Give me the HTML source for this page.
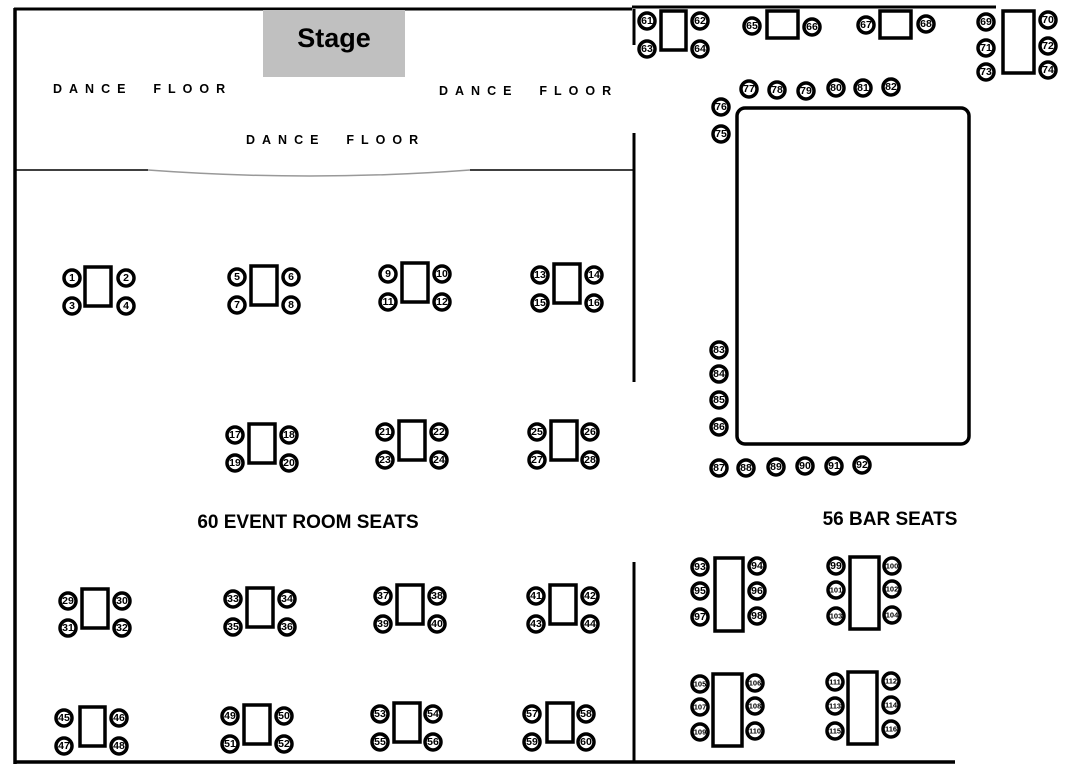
<!DOCTYPE html>
<html><head><meta charset="utf-8"><style>
html,body{margin:0;padding:0;background:#fff;width:1080px;height:781px;overflow:hidden}
svg{display:block}
.s circle{fill:#fff;stroke:#000;stroke-width:3.5}
.s text{font-family:"Liberation Sans",sans-serif;font-weight:bold;font-size:10.5px;text-anchor:middle;dominant-baseline:central;fill:#000}
.s text.sm{font-size:7.5px}
.t{fill:#fff;stroke:#000;stroke-width:3.5}
.df{font-family:"Liberation Sans",sans-serif;font-weight:bold;font-size:12.5px;letter-spacing:7px;fill:#000}
.big{font-family:"Liberation Sans",sans-serif;font-weight:bold;font-size:19px;fill:#000;text-anchor:middle}
</style></head><body>
<svg width="1080" height="781" viewBox="0 0 1080 781">
<g stroke="#000" fill="none">
<line x1="14" y1="9" x2="632" y2="9" stroke-width="3"/>
<line x1="632" y1="7" x2="996" y2="7" stroke-width="3"/>
<line x1="15" y1="8" x2="15" y2="764" stroke-width="3.5"/>
<line x1="14" y1="762" x2="955" y2="762" stroke-width="3.5"/>
<line x1="634" y1="9" x2="634" y2="45" stroke-width="3"/>
<line x1="634" y1="133" x2="634" y2="382" stroke-width="3"/>
<line x1="634" y1="562" x2="634" y2="763" stroke-width="3"/>
<line x1="16" y1="170" x2="148" y2="170" stroke-width="1.5"/>
<line x1="470" y1="170" x2="633" y2="170" stroke-width="1.5"/>
<path d="M148 170 Q310 182 470 170" stroke="#999" stroke-width="1.5"/>
</g>
<rect x="263" y="10" width="142" height="67" fill="#c0c0c0"/>
<text x="334" y="47" class="big" style="font-size:27px">Stage</text>
<text x="53" y="93" class="df">DANCE&#160;&#160;FLOOR</text>
<text x="439" y="95" class="df">DANCE&#160;&#160;FLOOR</text>
<text x="246" y="144" class="df">DANCE&#160;&#160;FLOOR</text>
<text x="308" y="528" class="big">60 EVENT ROOM SEATS</text>
<text x="890" y="525" class="big">56 BAR SEATS</text>

<g class="t">
<rect x="85" y="267" width="26" height="39"/>
<rect x="251" y="266" width="26" height="39"/>
<rect x="402" y="263" width="26" height="39"/>
<rect x="554" y="264" width="26" height="39"/>
<rect x="249" y="424" width="26" height="39"/>
<rect x="399" y="421" width="26" height="39"/>
<rect x="551" y="421" width="26" height="39"/>
<rect x="82" y="589" width="26" height="39"/>
<rect x="247" y="588" width="26" height="39"/>
<rect x="397" y="585" width="26" height="39"/>
<rect x="550" y="585" width="26" height="39"/>
<rect x="80" y="707" width="25" height="39"/>
<rect x="244" y="705" width="26" height="39"/>
<rect x="394" y="703" width="26" height="39"/>
<rect x="547" y="703" width="26" height="39"/>
<rect x="661" y="11" width="25" height="39"/>
<rect x="767" y="11" width="31" height="27"/>
<rect x="880" y="11" width="31" height="27"/>
<rect x="1003" y="11" width="31" height="62"/>
<rect x="737" y="108" width="232" height="336" rx="8"/>
<rect x="715" y="558" width="28" height="73"/>
<rect x="850" y="557" width="29" height="72"/>
<rect x="713" y="674" width="29" height="72"/>
<rect x="848" y="672" width="29" height="72"/>
</g>

<g class="s">
<circle cx="72" cy="278" r="8"/><text x="72" y="278">1</text>
<circle cx="126" cy="278" r="8"/><text x="126" y="278">2</text>
<circle cx="72" cy="306" r="8"/><text x="72" y="306">3</text>
<circle cx="126" cy="306" r="8"/><text x="126" y="306">4</text>
<circle cx="237" cy="277" r="8"/><text x="237" y="277">5</text>
<circle cx="291" cy="277" r="8"/><text x="291" y="277">6</text>
<circle cx="237" cy="305" r="8"/><text x="237" y="305">7</text>
<circle cx="291" cy="305" r="8"/><text x="291" y="305">8</text>
<circle cx="388" cy="274" r="8"/><text x="388" y="274">9</text>
<circle cx="442" cy="274" r="8"/><text x="442" y="274">10</text>
<circle cx="388" cy="302" r="8"/><text x="388" y="302">11</text>
<circle cx="442" cy="302" r="8"/><text x="442" y="302">12</text>
<circle cx="540" cy="275" r="8"/><text x="540" y="275">13</text>
<circle cx="594" cy="275" r="8"/><text x="594" y="275">14</text>
<circle cx="540" cy="303" r="8"/><text x="540" y="303">15</text>
<circle cx="594" cy="303" r="8"/><text x="594" y="303">16</text>
<circle cx="235" cy="435" r="8"/><text x="235" y="435">17</text>
<circle cx="289" cy="435" r="8"/><text x="289" y="435">18</text>
<circle cx="235" cy="463" r="8"/><text x="235" y="463">19</text>
<circle cx="289" cy="463" r="8"/><text x="289" y="463">20</text>
<circle cx="385" cy="432" r="8"/><text x="385" y="432">21</text>
<circle cx="439" cy="432" r="8"/><text x="439" y="432">22</text>
<circle cx="385" cy="460" r="8"/><text x="385" y="460">23</text>
<circle cx="439" cy="460" r="8"/><text x="439" y="460">24</text>
<circle cx="537" cy="432" r="8"/><text x="537" y="432">25</text>
<circle cx="590" cy="432" r="8"/><text x="590" y="432">26</text>
<circle cx="537" cy="460" r="8"/><text x="537" y="460">27</text>
<circle cx="590" cy="460" r="8"/><text x="590" y="460">28</text>
<circle cx="68" cy="601" r="8"/><text x="68" y="601">29</text>
<circle cx="122" cy="601" r="8"/><text x="122" y="601">30</text>
<circle cx="68" cy="628" r="8"/><text x="68" y="628">31</text>
<circle cx="122" cy="628" r="8"/><text x="122" y="628">32</text>
<circle cx="233" cy="599" r="8"/><text x="233" y="599">33</text>
<circle cx="287" cy="599" r="8"/><text x="287" y="599">34</text>
<circle cx="233" cy="627" r="8"/><text x="233" y="627">35</text>
<circle cx="287" cy="627" r="8"/><text x="287" y="627">36</text>
<circle cx="383" cy="596" r="8"/><text x="383" y="596">37</text>
<circle cx="437" cy="596" r="8"/><text x="437" y="596">38</text>
<circle cx="383" cy="624" r="8"/><text x="383" y="624">39</text>
<circle cx="437" cy="624" r="8"/><text x="437" y="624">40</text>
<circle cx="536" cy="596" r="8"/><text x="536" y="596">41</text>
<circle cx="590" cy="596" r="8"/><text x="590" y="596">42</text>
<circle cx="536" cy="624" r="8"/><text x="536" y="624">43</text>
<circle cx="590" cy="624" r="8"/><text x="590" y="624">44</text>
<circle cx="64" cy="718" r="8"/><text x="64" y="718">45</text>
<circle cx="119" cy="718" r="8"/><text x="119" y="718">46</text>
<circle cx="64" cy="746" r="8"/><text x="64" y="746">47</text>
<circle cx="119" cy="746" r="8"/><text x="119" y="746">48</text>
<circle cx="230" cy="716" r="8"/><text x="230" y="716">49</text>
<circle cx="284" cy="716" r="8"/><text x="284" y="716">50</text>
<circle cx="230" cy="744" r="8"/><text x="230" y="744">51</text>
<circle cx="284" cy="744" r="8"/><text x="284" y="744">52</text>
<circle cx="380" cy="714" r="8"/><text x="380" y="714">53</text>
<circle cx="433" cy="714" r="8"/><text x="433" y="714">54</text>
<circle cx="380" cy="742" r="8"/><text x="380" y="742">55</text>
<circle cx="433" cy="742" r="8"/><text x="433" y="742">56</text>
<circle cx="532" cy="714" r="8"/><text x="532" y="714">57</text>
<circle cx="586" cy="714" r="8"/><text x="586" y="714">58</text>
<circle cx="532" cy="742" r="8"/><text x="532" y="742">59</text>
<circle cx="586" cy="742" r="8"/><text x="586" y="742">60</text>
<circle cx="647" cy="21" r="8"/><text x="647" y="21">61</text>
<circle cx="700" cy="21" r="8"/><text x="700" y="21">62</text>
<circle cx="647" cy="49" r="8"/><text x="647" y="49">63</text>
<circle cx="700" cy="49" r="8"/><text x="700" y="49">64</text>
<circle cx="752" cy="26" r="8"/><text x="752" y="26">65</text>
<circle cx="812" cy="27" r="8"/><text x="812" y="27">66</text>
<circle cx="866" cy="25" r="8"/><text x="866" y="25">67</text>
<circle cx="926" cy="24" r="8"/><text x="926" y="24">68</text>
<circle cx="986" cy="22" r="8"/><text x="986" y="22">69</text>
<circle cx="1048" cy="20" r="8"/><text x="1048" y="20">70</text>
<circle cx="986" cy="48" r="8"/><text x="986" y="48">71</text>
<circle cx="1048" cy="46" r="8"/><text x="1048" y="46">72</text>
<circle cx="986" cy="72" r="8"/><text x="986" y="72">73</text>
<circle cx="1048" cy="70" r="8"/><text x="1048" y="70">74</text>
<circle cx="721" cy="134" r="8"/><text x="721" y="134">75</text>
<circle cx="721" cy="107" r="8"/><text x="721" y="107">76</text>
<circle cx="749" cy="89" r="8"/><text x="749" y="89">77</text>
<circle cx="777" cy="90" r="8"/><text x="777" y="90">78</text>
<circle cx="806" cy="91" r="8"/><text x="806" y="91">79</text>
<circle cx="836" cy="88" r="8"/><text x="836" y="88">80</text>
<circle cx="863" cy="88" r="8"/><text x="863" y="88">81</text>
<circle cx="891" cy="87" r="8"/><text x="891" y="87">82</text>
<circle cx="719" cy="350" r="8"/><text x="719" y="350">83</text>
<circle cx="719" cy="374" r="8"/><text x="719" y="374">84</text>
<circle cx="719" cy="400" r="8"/><text x="719" y="400">85</text>
<circle cx="719" cy="427" r="8"/><text x="719" y="427">86</text>
<circle cx="719" cy="468" r="8"/><text x="719" y="468">87</text>
<circle cx="746" cy="468" r="8"/><text x="746" y="468">88</text>
<circle cx="776" cy="467" r="8"/><text x="776" y="467">89</text>
<circle cx="805" cy="466" r="8"/><text x="805" y="466">90</text>
<circle cx="834" cy="466" r="8"/><text x="834" y="466">91</text>
<circle cx="862" cy="465" r="8"/><text x="862" y="465">92</text>
<circle cx="700" cy="567" r="8"/><text x="700" y="567">93</text>
<circle cx="757" cy="566" r="8"/><text x="757" y="566">94</text>
<circle cx="700" cy="591" r="8"/><text x="700" y="591">95</text>
<circle cx="757" cy="591" r="8"/><text x="757" y="591">96</text>
<circle cx="700" cy="617" r="8"/><text x="700" y="617">97</text>
<circle cx="757" cy="616" r="8"/><text x="757" y="616">98</text>
<circle cx="836" cy="566" r="8"/><text x="836" y="566">99</text>
<circle cx="892" cy="566" r="8"/><text x="892" y="566" class="sm">100</text>
<circle cx="836" cy="590" r="8"/><text x="836" y="590" class="sm">101</text>
<circle cx="892" cy="589" r="8"/><text x="892" y="589" class="sm">102</text>
<circle cx="836" cy="616" r="8"/><text x="836" y="616" class="sm">103</text>
<circle cx="892" cy="615" r="8"/><text x="892" y="615" class="sm">104</text>
<circle cx="700" cy="684" r="8"/><text x="700" y="684" class="sm">105</text>
<circle cx="755" cy="683" r="8"/><text x="755" y="683" class="sm">106</text>
<circle cx="700" cy="707" r="8"/><text x="700" y="707" class="sm">107</text>
<circle cx="755" cy="706" r="8"/><text x="755" y="706" class="sm">108</text>
<circle cx="700" cy="732" r="8"/><text x="700" y="732" class="sm">109</text>
<circle cx="755" cy="731" r="8"/><text x="755" y="731" class="sm">110</text>
<circle cx="835" cy="682" r="8"/><text x="835" y="682" class="sm">111</text>
<circle cx="891" cy="681" r="8"/><text x="891" y="681" class="sm">112</text>
<circle cx="835" cy="706" r="8"/><text x="835" y="706" class="sm">113</text>
<circle cx="891" cy="705" r="8"/><text x="891" y="705" class="sm">114</text>
<circle cx="835" cy="731" r="8"/><text x="835" y="731" class="sm">115</text>
<circle cx="891" cy="729" r="8"/><text x="891" y="729" class="sm">116</text>
</g>
</svg>
</body></html>
